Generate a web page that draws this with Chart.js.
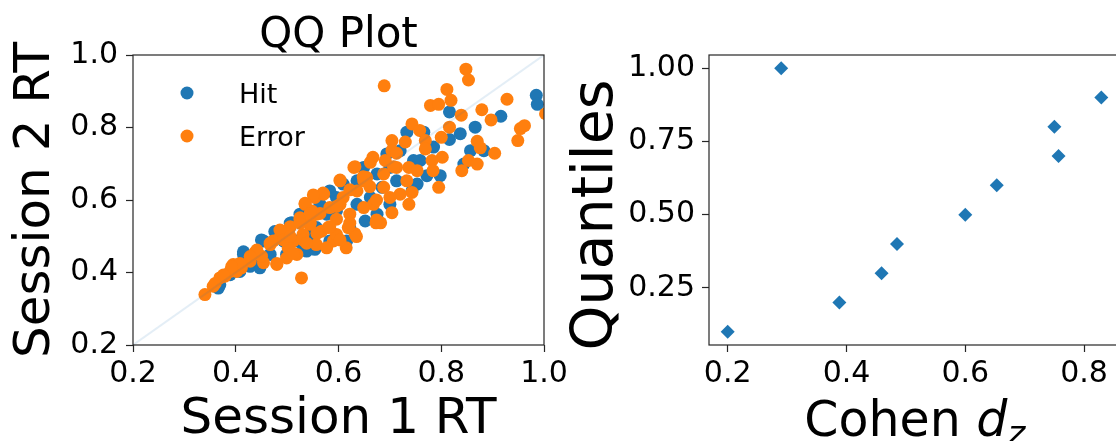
<!DOCTYPE html>
<html>
<head>
<meta charset="utf-8">
<script src="https://cdn.jsdelivr.net/npm/chart.js@4"></script>
<style>
  html, body { margin: 0; padding: 0; background: #fff; overflow: hidden; }
  body { width: 1116px; height: 441px; position: relative; }
  #qq { position: absolute; left: 0; top: 0; }
  #eff { position: absolute; left: 560px; top: 0; }
</style>
</head>
<body>
<canvas id="qq" width="600" height="441"></canvas>
<canvas id="eff" width="600" height="441"></canvas>
<script>
// ---- QQ plot data (Session 1 RT vs Session 2 RT) ----
const hitX = [0.985, 0.987, 0.816, 0.816, 0.837, 0.866, 0.916, 0.883, 0.857, 0.844, 0.798, 0.772, 0.785, 0.759,
  0.766, 0.733, 0.694, 0.649, 0.713, 0.753, 0.743, 0.700, 0.652, 0.675, 0.622, 0.609, 0.583, 0.577, 0.538, 0.554,
  0.499, 0.454, 0.480, 0.509, 0.525, 0.415, 0.447, 0.428, 0.366, 0.389, 0.596, 0.636, 0.662, 0.564, 0.548, 0.583,
  0.616, 0.746, 0.720, 0.685, 0.493, 0.519, 0.557, 0.596, 0.636, 0.675, 0.467, 0.408, 0.700,
  0.415, 0.450, 0.476, 0.506, 0.447, 0.531, 0.369];
const hitY = [0.889, 0.864, 0.843, 0.767, 0.783, 0.801, 0.831, 0.736, 0.736, 0.699, 0.667, 0.667, 0.746, 0.709,
  0.787, 0.787, 0.727, 0.690, 0.653, 0.644, 0.625, 0.588, 0.542, 0.561, 0.524, 0.644, 0.625, 0.561, 0.459, 0.464,
  0.450, 0.487, 0.505, 0.537, 0.561, 0.450, 0.413, 0.417, 0.357, 0.394, 0.570, 0.588, 0.607, 0.588, 0.505, 0.487,
  0.487, 0.709, 0.736, 0.635, 0.487, 0.487, 0.524, 0.607, 0.653, 0.672, 0.450, 0.403, 0.690,
  0.457, 0.490, 0.513, 0.536, 0.421, 0.462, 0.366];

const errorX = [0.848, 0.853, 0.689, 0.811, 0.819, 0.779, 0.795, 0.928, 0.879, 0.839, 0.897, 0.954, 0.962, 0.949,
  1.003, 0.816, 0.800, 0.743, 0.758, 0.769, 0.769, 0.704, 0.730, 0.704, 0.870, 0.876, 0.904, 0.853, 0.870, 0.840,
  0.802, 0.782, 0.784, 0.795, 0.667, 0.662, 0.713, 0.737, 0.753, 0.691, 0.688, 0.630, 0.603, 0.649, 0.688, 0.733,
  0.743, 0.720, 0.737, 0.700, 0.668, 0.704, 0.673, 0.682, 0.632, 0.615, 0.528, 0.554, 0.571, 0.535, 0.609, 0.583,
  0.557, 0.596, 0.649, 0.622, 0.544, 0.531, 0.567, 0.590, 0.557, 0.512, 0.502, 0.519, 0.489, 0.473, 0.499, 0.480,
  0.454, 0.467, 0.437, 0.450, 0.428, 0.411, 0.395, 0.389, 0.379, 0.369, 0.356, 0.340, 0.402, 0.548, 0.580, 0.619,
  0.603, 0.636, 0.655, 0.486, 0.505, 0.525, 0.596, 0.577,
  0.632, 0.603, 0.570, 0.551, 0.535, 0.622, 0.661, 0.674, 0.596, 0.564, 0.525, 0.506, 0.486, 0.545, 0.583, 0.622,
  0.674, 0.635, 0.603, 0.531, 0.493, 0.648, 0.707, 0.713, 0.506, 0.467, 0.441, 0.428, 0.408, 0.392, 0.376, 0.360,
  0.480, 0.512, 0.538, 0.558, 0.525, 0.545];
const errorY = [0.961, 0.931, 0.915, 0.905, 0.875, 0.861, 0.864, 0.878, 0.849, 0.834, 0.821, 0.797, 0.805, 0.764,
  0.838, 0.801, 0.773, 0.810, 0.792, 0.764, 0.741, 0.764, 0.760, 0.736, 0.762, 0.744, 0.729, 0.709, 0.699, 0.681,
  0.718, 0.709, 0.681, 0.635, 0.718, 0.704, 0.690, 0.690, 0.681, 0.709, 0.672, 0.690, 0.653, 0.653, 0.635, 0.653,
  0.621, 0.616, 0.588, 0.607, 0.588, 0.565, 0.537, 0.537, 0.507, 0.468, 0.385, 0.607, 0.616, 0.588, 0.607, 0.579,
  0.561, 0.547, 0.579, 0.561, 0.533, 0.505, 0.514, 0.487, 0.477, 0.487, 0.468, 0.450, 0.514, 0.487, 0.440, 0.422,
  0.427, 0.477, 0.454, 0.445, 0.431, 0.413, 0.422, 0.403, 0.390, 0.385, 0.362, 0.339, 0.403, 0.570, 0.524, 0.524,
  0.588, 0.625, 0.662, 0.496, 0.524, 0.551, 0.505, 0.468,
  0.692, 0.655, 0.619, 0.614, 0.591, 0.628, 0.637, 0.600, 0.582, 0.563, 0.545, 0.526, 0.517, 0.536, 0.526, 0.536,
  0.545, 0.499, 0.490, 0.490, 0.490, 0.664, 0.692, 0.729, 0.499, 0.481, 0.462, 0.444, 0.425, 0.416, 0.393, 0.370,
  0.425, 0.453, 0.481, 0.508, 0.536, 0.563];

const diagX = [0.2, 1.0];
const diagY = [0.2, 1.0];
const qqTicks = [0.2, 0.4, 0.6, 0.8, 1.0];

// ---- effect size vs quantile ----
const cohenD = [0.200, 0.290, 0.388, 0.459, 0.485, 0.600, 0.653, 0.750, 0.757, 0.829];
const quantiles = [0.1, 1.0, 0.2, 0.3, 0.4, 0.5, 0.6, 0.8, 0.7, 0.9];
const dTicks = [0.2, 0.4, 0.6, 0.8];
const qTicks = [0.25, 0.50, 0.75, 1.00];

const BLUE = '#1f77b4';
const ORANGE = '#ff7f0e';
const FAMILY = '"DejaVu Sans", sans-serif';
const EDGE = '#262626';

const toPoints = (xs, ys) => xs.map((x, i) => ({ x: x, y: ys[i] }));

const frame = {
  id: 'frame',
  afterDatasetsDraw(chart) {
    const { ctx, chartArea: a } = chart;
    ctx.save();
    ctx.strokeStyle = EDGE;
    ctx.lineWidth = 1.2;
    ctx.strokeRect(a.left, a.top, a.right - a.left, a.bottom - a.top);
    ctx.restore();
  }
};

function axis(min, max, ticks, digits, size, fit) {
  return {
    type: 'linear',
    min: min,
    max: max,
    afterBuildTicks: (s) => { s.ticks = ticks.map((v) => ({ value: v })); },
    afterFit: fit,
    ticks: {
      font: { family: FAMILY, size: size, lineHeight: 1.2 },
      color: '#000',
      padding: 4,
      maxRotation: 0,
      autoSkip: false,
      callback: (v) => Number(v).toFixed(digits)
    },
    grid: { drawOnChartArea: false, drawTicks: true, tickLength: 7, tickColor: EDGE, tickWidth: 1.2 },
    border: { display: false }
  };
}

// left chart: QQ plot
const qqX = axis(0.2, 1.0, qqTicks, 1, 30, (s) => { s.height = 96; });
qqX.title = { display: true, text: 'Session 1 RT', color: '#000',
  font: { family: FAMILY, size: 50, lineHeight: 1 }, padding: { top: 0, bottom: -4 } };
const qqY = axis(0.2, 1.0, qqTicks, 1, 30, (s) => { s.width = 133; });
qqY.ticks.padding = 8;
qqY.title = { display: true, text: 'Session 2 RT', color: '#000',
  font: { family: FAMILY, size: 50, lineHeight: 1 }, padding: { top: 11, bottom: 0 } };

const qqDecor = {
  id: 'qqDecor',
  afterDraw(chart) {
    const { ctx, chartArea: a } = chart;
    ctx.save();
    ctx.fillStyle = '#000';
    ctx.textBaseline = 'alphabetic';
    ctx.textAlign = 'center';
    ctx.font = '42px ' + FAMILY;
    ctx.fillText('QQ Plot', (a.left + a.right) / 2, 47);

    // legend inside the axes
    const items = [chart.data.datasets[0], chart.data.datasets[1]];
    ctx.font = '27px ' + FAMILY;
    ctx.textAlign = 'left';
    items.forEach((ds, i) => {
      const cy = 93 + i * 43;
      ctx.fillStyle = ds.backgroundColor;
      ctx.beginPath();
      ctx.arc(187, cy, 6.5, 0, Math.PI * 2);
      ctx.fill();
      ctx.fillStyle = '#000';
      ctx.fillText(ds.label, 239, cy + 9.5);
    });
    ctx.restore();
  }
};

new Chart(document.getElementById('qq'), {
  type: 'scatter',
  data: {
    datasets: [
      { label: 'Hit', data: toPoints(hitX, hitY), backgroundColor: BLUE, borderWidth: 0,
        pointRadius: 6.5, order: 3, clip: 0 },
      { label: 'Error', data: toPoints(errorX, errorY), backgroundColor: ORANGE, borderWidth: 0,
        pointRadius: 6.5, order: 2, clip: 0 },
      { label: 'diag', data: toPoints(diagX, diagY), showLine: true, pointRadius: 0,
        borderColor: 'rgba(31,119,180,0.12)', borderWidth: 2, order: 1, clip: 0 }
    ]
  },
  options: {
    responsive: false,
    animation: false,
    events: [],
    layout: { padding: { top: 55, right: 56, left: 0, bottom: 0 } },
    plugins: { legend: { display: false }, tooltip: { enabled: false } },
    scales: { x: qqX, y: qqY }
  },
  plugins: [frame, qqDecor]
});

// right chart: Cohen d_z vs quantiles
const effX = axis(0.1685, 0.8615, dTicks, 1, 30, (s) => { s.height = 96; });
const effY = axis(0.055, 1.045, qTicks, 2, 30, (s) => { s.width = 149; });
effY.ticks.padding = 7;

const effDecor = {
  id: 'effDecor',
  afterDraw(chart) {
    const { ctx, chartArea: a } = chart;
    const base = 436;
    ctx.save();
    ctx.fillStyle = '#000';
    ctx.textBaseline = 'alphabetic';

    // y label, rotated
    ctx.save();
    ctx.translate(52, 215);
    ctx.rotate(-Math.PI / 2);
    ctx.textAlign = 'center';
    ctx.font = '57px ' + FAMILY;
    ctx.fillText('Quantiles', 0, 0);
    ctx.restore();

    // x label with italic d and subscript z
    ctx.textAlign = 'left';
    const fMain = '49px ' + FAMILY;
    const fIt = 'italic 49px ' + FAMILY;
    const fSub = 'italic 34px ' + FAMILY;
    ctx.font = fMain; const w1 = ctx.measureText('Cohen ').width;
    ctx.font = fIt; const w2 = ctx.measureText('d').width;
    ctx.font = fSub; const w3 = ctx.measureText('z').width;
    let x = (a.left + a.right) / 2 - (w1 + w2 + w3) / 2;
    ctx.font = fMain; ctx.fillText('Cohen ', x, base); x += w1;
    ctx.font = fIt; ctx.fillText('d', x, base); x += w2;
    ctx.font = fSub; ctx.fillText('z', x, base + 9);
    ctx.restore();
  }
};

new Chart(document.getElementById('eff'), {
  type: 'scatter',
  data: {
    datasets: [
      { label: 'd', data: toPoints(cohenD, quantiles), backgroundColor: BLUE, borderWidth: 0,
        pointStyle: 'rectRot', pointRadius: 7 }
    ]
  },
  options: {
    responsive: false,
    animation: false,
    events: [],
    layout: { padding: { top: 55, right: 39.4, left: 0, bottom: 0 } },
    plugins: { legend: { display: false }, tooltip: { enabled: false } },
    scales: { x: effX, y: effY }
  },
  plugins: [frame, effDecor]
});
</script>
</body>
</html>
